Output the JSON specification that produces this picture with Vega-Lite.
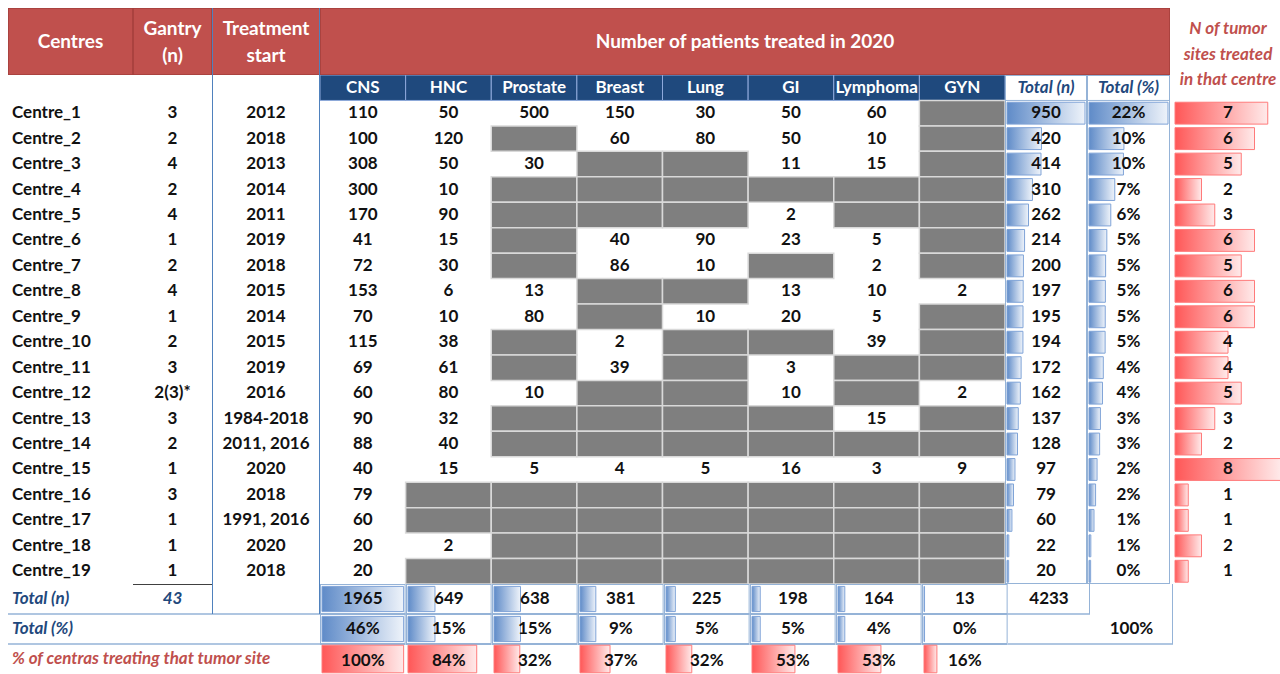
{
  "$schema": "https://vega.github.io/schema/vega-lite/v6.json",
  "padding": {"left": 8, "top": 8, "right": 0, "bottom": 0},
  "background": "white",
  "spacing": 0,
  "config": {
    "view": {"stroke": null},
    "concat": {"spacing": 0},
    "text": {"font": "Lato", "fontSize": 17, "fontWeight": "bold", "color": "#111111"}
  },
  "datasets": {
    "centres": [
      {"centre": "Centre_1", "gantry": "3", "start": "2012", "CNS": 110, "HNC": 50, "Prostate": 500, "Breast": 150, "Lung": 30, "GI": 50, "Lymphoma": 60, "total": 950, "pct": 0.2244, "sites": 7},
      {"centre": "Centre_2", "gantry": "2", "start": "2018", "CNS": 100, "HNC": 120, "Breast": 60, "Lung": 80, "GI": 50, "Lymphoma": 10, "total": 420, "pct": 0.0992, "sites": 6},
      {"centre": "Centre_3", "gantry": "4", "start": "2013", "CNS": 308, "HNC": 50, "Prostate": 30, "GI": 11, "Lymphoma": 15, "total": 414, "pct": 0.0978, "sites": 5},
      {"centre": "Centre_4", "gantry": "2", "start": "2014", "CNS": 300, "HNC": 10, "total": 310, "pct": 0.0732, "sites": 2},
      {"centre": "Centre_5", "gantry": "4", "start": "2011", "CNS": 170, "HNC": 90, "GI": 2, "total": 262, "pct": 0.0619, "sites": 3},
      {"centre": "Centre_6", "gantry": "1", "start": "2019", "CNS": 41, "HNC": 15, "Breast": 40, "Lung": 90, "GI": 23, "Lymphoma": 5, "total": 214, "pct": 0.0506, "sites": 6},
      {"centre": "Centre_7", "gantry": "2", "start": "2018", "CNS": 72, "HNC": 30, "Breast": 86, "Lung": 10, "Lymphoma": 2, "total": 200, "pct": 0.0472, "sites": 5},
      {"centre": "Centre_8", "gantry": "4", "start": "2015", "CNS": 153, "HNC": 6, "Prostate": 13, "GI": 13, "Lymphoma": 10, "GYN": 2, "total": 197, "pct": 0.0465, "sites": 6},
      {"centre": "Centre_9", "gantry": "1", "start": "2014", "CNS": 70, "HNC": 10, "Prostate": 80, "Lung": 10, "GI": 20, "Lymphoma": 5, "total": 195, "pct": 0.0461, "sites": 6},
      {"centre": "Centre_10", "gantry": "2", "start": "2015", "CNS": 115, "HNC": 38, "Breast": 2, "Lymphoma": 39, "total": 194, "pct": 0.0458, "sites": 4},
      {"centre": "Centre_11", "gantry": "3", "start": "2019", "CNS": 69, "HNC": 61, "Breast": 39, "GI": 3, "total": 172, "pct": 0.0406, "sites": 4},
      {"centre": "Centre_12", "gantry": "2(3)*", "start": "2016", "CNS": 60, "HNC": 80, "Prostate": 10, "GI": 10, "GYN": 2, "total": 162, "pct": 0.0383, "sites": 5},
      {"centre": "Centre_13", "gantry": "3", "start": "1984-2018", "CNS": 90, "HNC": 32, "Lymphoma": 15, "total": 137, "pct": 0.0324, "sites": 3},
      {"centre": "Centre_14", "gantry": "2", "start": "2011, 2016", "CNS": 88, "HNC": 40, "total": 128, "pct": 0.0302, "sites": 2},
      {"centre": "Centre_15", "gantry": "1", "start": "2020", "CNS": 40, "HNC": 15, "Prostate": 5, "Breast": 4, "Lung": 5, "GI": 16, "Lymphoma": 3, "GYN": 9, "total": 97, "pct": 0.0229, "sites": 8},
      {"centre": "Centre_16", "gantry": "3", "start": "2018", "CNS": 79, "total": 79, "pct": 0.0187, "sites": 1},
      {"centre": "Centre_17", "gantry": "1", "start": "1991, 2016", "CNS": 60, "total": 60, "pct": 0.0142, "sites": 1},
      {"centre": "Centre_18", "gantry": "1", "start": "2020", "CNS": 20, "HNC": 2, "total": 22, "pct": 0.0052, "sites": 2},
      {"centre": "Centre_19", "gantry": "1", "start": "2018", "CNS": 20, "total": 20, "pct": 0.0047, "sites": 1}
    ],
    "sites": [
      {"site": "CNS", "total": 1965, "share": 0.4642, "cpct": 1.0},
      {"site": "HNC", "total": 649, "share": 0.1533, "cpct": 0.842},
      {"site": "Prostate", "total": 638, "share": 0.1507, "cpct": 0.316},
      {"site": "Breast", "total": 381, "share": 0.09, "cpct": 0.368},
      {"site": "Lung", "total": 225, "share": 0.0532, "cpct": 0.316},
      {"site": "GI", "total": 198, "share": 0.0468, "cpct": 0.526},
      {"site": "Lymphoma", "total": 164, "share": 0.0387, "cpct": 0.526},
      {"site": "GYN", "total": 13, "share": 0.0031, "cpct": 0.158}
    ],
    "footer": [
      {"row": "n", "label": "Total (n)", "gantry": "43"},
      {"row": "pct", "label": "Total (%)"},
      {"row": "cent", "label": "% of centras treating that tumor site"}
    ],
    "grand": [{"total": 4233, "share": 1.0}]
  },
  "hconcat": [
    {
      "spacing": 0,
      "vconcat": [
        {"spacing": 0, "bounds": "flush",
         "hconcat": [
          {"width": 125, "height": 67, "data": {"values": [{"t": "Centres"}]},
           "layer": [
             {"mark": {"type": "rect", "fill": "#C0504D", "stroke": "#A33E3B", "strokeWidth": 1.5, "clip": true}, "encoding": {}},
             {"mark": {"type": "text", "color": "white", "fontSize": 19}, "encoding": {"text": {"field": "t"}}}
           ]},
          {"width": 79, "height": 67, "data": {"values": [{"t": "Gantry\n(n)"}]},
           "layer": [
             {"mark": {"type": "rect", "fill": "#C0504D", "stroke": "#A33E3B", "strokeWidth": 1.5, "clip": true}, "encoding": {}},
             {"mark": {"type": "text", "color": "white", "fontSize": 19, "lineBreak": "\n", "lineHeight": 27, "dy": -12.5}, "encoding": {"text": {"field": "t"}}}
           ]},
          {"width": 108, "height": 67, "data": {"values": [{"t": "Treatment\nstart"}]},
           "layer": [
             {"mark": {"type": "rect", "fill": "#C0504D", "stroke": "#A33E3B", "strokeWidth": 1.5, "clip": true}, "encoding": {}},
             {"mark": {"type": "text", "color": "white", "fontSize": 19, "lineBreak": "\n", "lineHeight": 27, "dy": -12.5}, "encoding": {"text": {"field": "t"}}},
             {"mark": {"type": "rule", "color": "#4F81BD", "strokeWidth": 2, "clip": true},
              "encoding": {"x": {"datum": 0, "type": "quantitative", "scale": {"domain": [0, 1], "nice": false, "zero": false}, "axis": null}}},
             {"mark": {"type": "rule", "color": "#4F81BD", "strokeWidth": 2, "clip": true},
              "encoding": {"x": {"datum": 1, "type": "quantitative"}}}
           ]}
        ]},
        {"spacing": 0, "bounds": "flush",
         "hconcat": [
          {"width": 125, "height": 509, "data": {"name": "centres"},
           "mark": {"type": "text", "align": "left", "dx": -58.5},
           "encoding": {
             "y": {"field": "centre", "type": "nominal", "scale": {"domain": ["hdr","Centre_1","Centre_2","Centre_3","Centre_4","Centre_5","Centre_6","Centre_7","Centre_8","Centre_9","Centre_10","Centre_11","Centre_12","Centre_13","Centre_14","Centre_15","Centre_16","Centre_17","Centre_18","Centre_19"], "paddingInner": 0, "paddingOuter": 0}, "axis": null},
             "text": {"field": "centre"}
           }},
          {"width": 79, "height": 509, "data": {"name": "centres"},
           "mark": {"type": "text"},
           "encoding": {
             "y": {"field": "centre", "type": "nominal", "scale": {"domain": ["hdr","Centre_1","Centre_2","Centre_3","Centre_4","Centre_5","Centre_6","Centre_7","Centre_8","Centre_9","Centre_10","Centre_11","Centre_12","Centre_13","Centre_14","Centre_15","Centre_16","Centre_17","Centre_18","Centre_19"], "paddingInner": 0, "paddingOuter": 0}, "axis": null},
             "text": {"field": "gantry"}
           }},
          {"width": 108, "height": 509,
           "layer": [
             {"data": {"name": "centres"},
              "mark": {"type": "text"},
              "encoding": {
                "y": {"field": "centre", "type": "nominal", "scale": {"domain": ["hdr","Centre_1","Centre_2","Centre_3","Centre_4","Centre_5","Centre_6","Centre_7","Centre_8","Centre_9","Centre_10","Centre_11","Centre_12","Centre_13","Centre_14","Centre_15","Centre_16","Centre_17","Centre_18","Centre_19"], "paddingInner": 0, "paddingOuter": 0}, "axis": null},
                "text": {"field": "start"}
              }},
             {"data": {"values": [{}]},
              "mark": {"type": "rule", "color": "#4F81BD", "strokeWidth": 2, "clip": true},
              "encoding": {"x": {"datum": 0, "type": "quantitative", "scale": {"domain": [0, 1], "nice": false, "zero": false}, "axis": null}}},
             {"data": {"values": [{}]},
              "mark": {"type": "rule", "color": "#4F81BD", "strokeWidth": 2, "clip": true},
              "encoding": {"x": {"datum": 1, "type": "quantitative"}}}
           ]}
        ]},
        {"spacing": 0, "bounds": "flush",
         "hconcat": [
          {"width": 125, "height": 90, "data": {"name": "footer"},
           "layer": [
             {"mark": {"type": "text", "align": "left", "dx": -58.5, "fontStyle": "italic"},
              "encoding": {
                "y": {"field": "row", "type": "nominal", "scale": {"domain": ["n","pct","cent"], "paddingInner": 0, "paddingOuter": 0}, "axis": null},
                "text": {"field": "label"},
                "color": {"condition": {"test": "datum.row === 'cent'", "value": "#C0504D"}, "value": "#1F497D"}
              }},
             {"transform": [{"filter": "datum.row !== 'cent'"}],
              "mark": {"type": "rule", "color": "#95B3D7", "strokeWidth": 1.5, "clip": true},
              "encoding": {"y": {"field": "row", "type": "nominal", "bandPosition": 1}}}
           ]},
          {"width": 79, "height": 90, "data": {"name": "footer"},
           "layer": [
             {"transform": [{"filter": "datum.gantry"}],
              "mark": {"type": "text", "fontStyle": "italic", "color": "#1F497D"},
              "encoding": {
                "y": {"field": "row", "type": "nominal", "scale": {"domain": ["n","pct","cent"], "paddingInner": 0, "paddingOuter": 0}, "axis": null},
                "text": {"field": "gantry"}
              }},
             {"transform": [{"filter": "datum.row === 'n'"}],
              "mark": {"type": "rule", "color": "#404040", "strokeWidth": 2, "clip": true},
              "encoding": {"y": {"field": "row", "type": "nominal", "bandPosition": 0}}},
             {"transform": [{"filter": "datum.row !== 'cent'"}],
              "mark": {"type": "rule", "color": "#95B3D7", "strokeWidth": 1.5, "clip": true},
              "encoding": {"y": {"field": "row", "type": "nominal", "bandPosition": 1}}}
           ]},
          {"width": 108, "height": 90, "data": {"name": "footer"},
           "layer": [
             {"transform": [{"filter": "datum.row !== 'cent'"}],
              "mark": {"type": "rule", "color": "#95B3D7", "strokeWidth": 1.5, "clip": true},
              "encoding": {"y": {"field": "row", "type": "nominal", "bandPosition": 1, "scale": {"domain": ["n","pct","cent"], "paddingInner": 0, "paddingOuter": 0}, "axis": null}}},
             {"transform": [{"filter": "datum.row === 'n'"}],
              "mark": {"type": "rect", "fill": "transparent", "stroke": "#4F81BD", "strokeWidth": 2, "clip": true},
              "encoding": {
                "y": {"field": "row", "type": "nominal"},
                "x": {"datum": 0, "type": "quantitative", "scale": {"domain": [0, 1], "nice": false, "zero": false}, "axis": null},
                "x2": {"datum": 0}
              }},
             {"transform": [{"filter": "datum.row === 'n'"}],
              "mark": {"type": "rect", "fill": "transparent", "stroke": "#4F81BD", "strokeWidth": 2, "clip": true},
              "encoding": {
                "y": {"field": "row", "type": "nominal"},
                "x": {"datum": 1, "type": "quantitative"},
                "x2": {"datum": 1}
              }}
           ]}
        ]}
      ]
    },
    {
      "spacing": 0,
      "vconcat": [
        {"width": 850, "height": 67, "data": {"values": [{"t": "Number of patients treated in 2020"}]},
         "layer": [
           {"mark": {"type": "rect", "fill": "#C0504D", "stroke": "#A33E3B", "strokeWidth": 1.5, "clip": true}, "encoding": {}},
           {"mark": {"type": "text", "color": "white", "fontSize": 19}, "encoding": {"text": {"field": "t"}}}
         ]},
        {"spacing": 0, "bounds": "flush",
         "hconcat": [
           {"width": 685, "height": 509,
            "layer": [
              {"data": {"name": "sites"},
               "mark": {"type": "rect", "fill": "#1F497D", "stroke": "#8EA9DB", "strokeWidth": 1, "clip": true},
               "encoding": {
                 "x": {"field": "site", "type": "nominal", "scale": {"domain": ["CNS","HNC","Prostate","Breast","Lung","GI","Lymphoma","GYN"], "paddingInner": 0, "paddingOuter": 0}, "axis": null},
                 "y": {"datum": "hdr", "type": "nominal", "scale": {"domain": ["hdr","Centre_1","Centre_2","Centre_3","Centre_4","Centre_5","Centre_6","Centre_7","Centre_8","Centre_9","Centre_10","Centre_11","Centre_12","Centre_13","Centre_14","Centre_15","Centre_16","Centre_17","Centre_18","Centre_19"], "paddingInner": 0, "paddingOuter": 0}, "axis": null}
               }},
              {"data": {"name": "sites"},
               "mark": {"type": "text", "color": "white"},
               "encoding": {
                 "x": {"field": "site", "type": "nominal"},
                 "y": {"datum": "hdr", "type": "nominal"},
                 "text": {"field": "site"}
               }},
              {"data": {"name": "centres"},
               "transform": [{"fold": ["CNS","HNC","Prostate","Breast","Lung","GI","Lymphoma","GYN"], "as": ["site", "n"]}, {"filter": "datum.n == null"}],
               "mark": {"type": "rect", "fill": "#7F7F7F", "stroke": "#D9D9D9", "strokeWidth": 1.5, "clip": true},
               "encoding": {
                 "x": {"field": "site", "type": "nominal"},
                 "y": {"field": "centre", "type": "nominal"}
               }},
              {"data": {"name": "centres"},
               "transform": [{"fold": ["CNS","HNC","Prostate","Breast","Lung","GI","Lymphoma","GYN"], "as": ["site", "n"]}, {"filter": "datum.n != null"}],
               "mark": {"type": "text"},
               "encoding": {
                 "x": {"field": "site", "type": "nominal"},
                 "y": {"field": "centre", "type": "nominal"},
                 "text": {"field": "n", "type": "quantitative", "format": "d"}
               }}
            ]},
           {"width": 82, "height": 509,
            "layer": [
              {"data": {"values": [{}]},
               "mark": {"type": "rect", "fill": "transparent", "stroke": "#95B3D7", "strokeWidth": 2, "clip": true},
               "encoding": {}},
              {"data": {"values": [{"t": "Total (n)"}]},
               "mark": {"type": "text", "fontStyle": "italic", "color": "#1F497D"},
               "encoding": {
                 "y": {"datum": "hdr", "type": "nominal", "scale": {"domain": ["hdr","Centre_1","Centre_2","Centre_3","Centre_4","Centre_5","Centre_6","Centre_7","Centre_8","Centre_9","Centre_10","Centre_11","Centre_12","Centre_13","Centre_14","Centre_15","Centre_16","Centre_17","Centre_18","Centre_19"], "paddingInner": 0, "paddingOuter": 0}, "axis": null},
                 "text": {"field": "t"}
               }},
              {"data": {"values": [{}]},
               "mark": {"type": "rule", "color": "#95B3D7", "clip": true},
               "encoding": {"y": {"datum": "hdr", "type": "nominal", "bandPosition": 1}}},
              {"data": {"name": "centres"},
               "mark": {"type": "bar", "height": {"band": 0.86}, "stroke": "#7FA3D7", "strokeWidth": 1,
                        "fill": {"gradient": "linear", "x1": 0, "y1": 0, "x2": 1, "y2": 0, "stops": [{"offset": 0, "color": "#5F8BC8"}, {"offset": 1, "color": "#EEF3FA"}]}},
               "encoding": {
                 "x": {"field": "total", "type": "quantitative", "scale": {"domain": [0, 950], "nice": false, "padding": 2}, "axis": null},
                 "y": {"field": "centre", "type": "nominal"}
               }},
              {"data": {"name": "centres"},
               "mark": {"type": "text"},
               "encoding": {
                 "y": {"field": "centre", "type": "nominal"},
                 "text": {"field": "total", "type": "quantitative", "format": "d"}
               }}
            ]},
           {"width": 83, "height": 509,
            "layer": [
              {"data": {"values": [{}]},
               "mark": {"type": "rect", "fill": "transparent", "stroke": "#95B3D7", "strokeWidth": 2, "clip": true},
               "encoding": {}},
              {"data": {"values": [{"t": "Total (%)"}]},
               "mark": {"type": "text", "fontStyle": "italic", "color": "#1F497D"},
               "encoding": {
                 "y": {"datum": "hdr", "type": "nominal", "scale": {"domain": ["hdr","Centre_1","Centre_2","Centre_3","Centre_4","Centre_5","Centre_6","Centre_7","Centre_8","Centre_9","Centre_10","Centre_11","Centre_12","Centre_13","Centre_14","Centre_15","Centre_16","Centre_17","Centre_18","Centre_19"], "paddingInner": 0, "paddingOuter": 0}, "axis": null},
                 "text": {"field": "t"}
               }},
              {"data": {"values": [{}]},
               "mark": {"type": "rule", "color": "#95B3D7", "clip": true},
               "encoding": {"y": {"datum": "hdr", "type": "nominal", "bandPosition": 1}}},
              {"data": {"name": "centres"},
               "mark": {"type": "bar", "height": {"band": 0.86}, "stroke": "#7FA3D7", "strokeWidth": 1,
                        "fill": {"gradient": "linear", "x1": 0, "y1": 0, "x2": 1, "y2": 0, "stops": [{"offset": 0, "color": "#5F8BC8"}, {"offset": 1, "color": "#EEF3FA"}]}},
               "encoding": {
                 "x": {"field": "pct", "type": "quantitative", "scale": {"domain": [0, 0.2244], "nice": false, "padding": 2}, "axis": null},
                 "y": {"field": "centre", "type": "nominal"}
               }},
              {"data": {"name": "centres"},
               "mark": {"type": "text"},
               "encoding": {
                 "y": {"field": "centre", "type": "nominal"},
                 "text": {"field": "pct", "type": "quantitative", "format": ".0%"}
               }}
            ]}
         ]},
        {"spacing": 0, "bounds": "flush",
         "hconcat": [
           {"width": 85.625, "height": 90, "data": {"name": "sites"}, "transform": [{"filter": "datum.site === 'CNS'"}],
            "layer": [
              {"mark": {"type": "rect", "fill": "transparent", "stroke": "#95B3D7", "strokeWidth": 2, "clip": true}, "encoding": {"y": {"datum": "n", "type": "nominal", "scale": {"domain": ["n","pct","cent"], "paddingInner": 0, "paddingOuter": 0}, "axis": null}}},
              {"mark": {"type": "rect", "fill": "transparent", "stroke": "#95B3D7", "strokeWidth": 2, "clip": true}, "encoding": {"y": {"datum": "pct", "type": "nominal"}}},
              {"mark": {"type": "bar", "height": {"band": 0.84}, "stroke": "#7FA3D7", "strokeWidth": 1, "fill": {"gradient": "linear", "x1": 0, "y1": 0, "x2": 1, "y2": 0, "stops": [{"offset": 0, "color": "#5F8BC8"}, {"offset": 1, "color": "#EEF3FA"}]}},
               "encoding": {"x": {"field": "total", "type": "quantitative", "scale": {"domain": [0, 1965], "nice": false, "padding": 2}, "axis": null}, "y": {"datum": "n", "type": "nominal"}}},
              {"mark": {"type": "bar", "height": {"band": 0.84}, "stroke": "#7FA3D7", "strokeWidth": 1, "fill": {"gradient": "linear", "x1": 0, "y1": 0, "x2": 1, "y2": 0, "stops": [{"offset": 0, "color": "#5F8BC8"}, {"offset": 1, "color": "#EEF3FA"}]}},
               "encoding": {"x": {"field": "share", "type": "quantitative", "scale": {"domain": [0, 0.4642], "nice": false, "padding": 2}, "axis": null}, "y": {"datum": "pct", "type": "nominal"}}},
              {"mark": {"type": "bar", "height": {"band": 0.92}, "stroke": "#FF7A7A", "strokeWidth": 1, "fill": {"gradient": "linear", "x1": 0, "y1": 0, "x2": 1, "y2": 0, "stops": [{"offset": 0, "color": "#FF5757"}, {"offset": 1, "color": "#FFEAEA"}]}},
               "encoding": {"x": {"field": "cpct", "type": "quantitative", "scale": {"domain": [0, 1], "nice": false, "padding": 2}, "axis": null}, "y": {"datum": "cent", "type": "nominal"}}},
              {"mark": {"type": "text"}, "encoding": {"y": {"datum": "n", "type": "nominal"}, "text": {"field": "total", "type": "quantitative", "format": "d"}}},
              {"mark": {"type": "text"}, "encoding": {"y": {"datum": "pct", "type": "nominal"}, "text": {"field": "share", "type": "quantitative", "format": ".0%"}}},
              {"mark": {"type": "text", "dy": 2}, "encoding": {"y": {"datum": "cent", "type": "nominal"}, "text": {"field": "cpct", "type": "quantitative", "format": ".0%"}}}
            ],
            "resolve": {"scale": {"x": "independent"}}},
           {"width": 85.625, "height": 90, "data": {"name": "sites"}, "transform": [{"filter": "datum.site === 'HNC'"}],
            "layer": [
              {"mark": {"type": "rect", "fill": "transparent", "stroke": "#95B3D7", "strokeWidth": 2, "clip": true}, "encoding": {"y": {"datum": "n", "type": "nominal", "scale": {"domain": ["n","pct","cent"], "paddingInner": 0, "paddingOuter": 0}, "axis": null}}},
              {"mark": {"type": "rect", "fill": "transparent", "stroke": "#95B3D7", "strokeWidth": 2, "clip": true}, "encoding": {"y": {"datum": "pct", "type": "nominal"}}},
              {"mark": {"type": "bar", "height": {"band": 0.84}, "stroke": "#7FA3D7", "strokeWidth": 1, "fill": {"gradient": "linear", "x1": 0, "y1": 0, "x2": 1, "y2": 0, "stops": [{"offset": 0, "color": "#5F8BC8"}, {"offset": 1, "color": "#EEF3FA"}]}},
               "encoding": {"x": {"field": "total", "type": "quantitative", "scale": {"domain": [0, 1965], "nice": false, "padding": 2}, "axis": null}, "y": {"datum": "n", "type": "nominal"}}},
              {"mark": {"type": "bar", "height": {"band": 0.84}, "stroke": "#7FA3D7", "strokeWidth": 1, "fill": {"gradient": "linear", "x1": 0, "y1": 0, "x2": 1, "y2": 0, "stops": [{"offset": 0, "color": "#5F8BC8"}, {"offset": 1, "color": "#EEF3FA"}]}},
               "encoding": {"x": {"field": "share", "type": "quantitative", "scale": {"domain": [0, 0.4642], "nice": false, "padding": 2}, "axis": null}, "y": {"datum": "pct", "type": "nominal"}}},
              {"mark": {"type": "bar", "height": {"band": 0.92}, "stroke": "#FF7A7A", "strokeWidth": 1, "fill": {"gradient": "linear", "x1": 0, "y1": 0, "x2": 1, "y2": 0, "stops": [{"offset": 0, "color": "#FF5757"}, {"offset": 1, "color": "#FFEAEA"}]}},
               "encoding": {"x": {"field": "cpct", "type": "quantitative", "scale": {"domain": [0, 1], "nice": false, "padding": 2}, "axis": null}, "y": {"datum": "cent", "type": "nominal"}}},
              {"mark": {"type": "text"}, "encoding": {"y": {"datum": "n", "type": "nominal"}, "text": {"field": "total", "type": "quantitative", "format": "d"}}},
              {"mark": {"type": "text"}, "encoding": {"y": {"datum": "pct", "type": "nominal"}, "text": {"field": "share", "type": "quantitative", "format": ".0%"}}},
              {"mark": {"type": "text", "dy": 2}, "encoding": {"y": {"datum": "cent", "type": "nominal"}, "text": {"field": "cpct", "type": "quantitative", "format": ".0%"}}}
            ],
            "resolve": {"scale": {"x": "independent"}}},
           {"width": 85.625, "height": 90, "data": {"name": "sites"}, "transform": [{"filter": "datum.site === 'Prostate'"}],
            "layer": [
              {"mark": {"type": "rect", "fill": "transparent", "stroke": "#95B3D7", "strokeWidth": 2, "clip": true}, "encoding": {"y": {"datum": "n", "type": "nominal", "scale": {"domain": ["n","pct","cent"], "paddingInner": 0, "paddingOuter": 0}, "axis": null}}},
              {"mark": {"type": "rect", "fill": "transparent", "stroke": "#95B3D7", "strokeWidth": 2, "clip": true}, "encoding": {"y": {"datum": "pct", "type": "nominal"}}},
              {"mark": {"type": "bar", "height": {"band": 0.84}, "stroke": "#7FA3D7", "strokeWidth": 1, "fill": {"gradient": "linear", "x1": 0, "y1": 0, "x2": 1, "y2": 0, "stops": [{"offset": 0, "color": "#5F8BC8"}, {"offset": 1, "color": "#EEF3FA"}]}},
               "encoding": {"x": {"field": "total", "type": "quantitative", "scale": {"domain": [0, 1965], "nice": false, "padding": 2}, "axis": null}, "y": {"datum": "n", "type": "nominal"}}},
              {"mark": {"type": "bar", "height": {"band": 0.84}, "stroke": "#7FA3D7", "strokeWidth": 1, "fill": {"gradient": "linear", "x1": 0, "y1": 0, "x2": 1, "y2": 0, "stops": [{"offset": 0, "color": "#5F8BC8"}, {"offset": 1, "color": "#EEF3FA"}]}},
               "encoding": {"x": {"field": "share", "type": "quantitative", "scale": {"domain": [0, 0.4642], "nice": false, "padding": 2}, "axis": null}, "y": {"datum": "pct", "type": "nominal"}}},
              {"mark": {"type": "bar", "height": {"band": 0.92}, "stroke": "#FF7A7A", "strokeWidth": 1, "fill": {"gradient": "linear", "x1": 0, "y1": 0, "x2": 1, "y2": 0, "stops": [{"offset": 0, "color": "#FF5757"}, {"offset": 1, "color": "#FFEAEA"}]}},
               "encoding": {"x": {"field": "cpct", "type": "quantitative", "scale": {"domain": [0, 1], "nice": false, "padding": 2}, "axis": null}, "y": {"datum": "cent", "type": "nominal"}}},
              {"mark": {"type": "text"}, "encoding": {"y": {"datum": "n", "type": "nominal"}, "text": {"field": "total", "type": "quantitative", "format": "d"}}},
              {"mark": {"type": "text"}, "encoding": {"y": {"datum": "pct", "type": "nominal"}, "text": {"field": "share", "type": "quantitative", "format": ".0%"}}},
              {"mark": {"type": "text", "dy": 2}, "encoding": {"y": {"datum": "cent", "type": "nominal"}, "text": {"field": "cpct", "type": "quantitative", "format": ".0%"}}}
            ],
            "resolve": {"scale": {"x": "independent"}}},
           {"width": 85.625, "height": 90, "data": {"name": "sites"}, "transform": [{"filter": "datum.site === 'Breast'"}],
            "layer": [
              {"mark": {"type": "rect", "fill": "transparent", "stroke": "#95B3D7", "strokeWidth": 2, "clip": true}, "encoding": {"y": {"datum": "n", "type": "nominal", "scale": {"domain": ["n","pct","cent"], "paddingInner": 0, "paddingOuter": 0}, "axis": null}}},
              {"mark": {"type": "rect", "fill": "transparent", "stroke": "#95B3D7", "strokeWidth": 2, "clip": true}, "encoding": {"y": {"datum": "pct", "type": "nominal"}}},
              {"mark": {"type": "bar", "height": {"band": 0.84}, "stroke": "#7FA3D7", "strokeWidth": 1, "fill": {"gradient": "linear", "x1": 0, "y1": 0, "x2": 1, "y2": 0, "stops": [{"offset": 0, "color": "#5F8BC8"}, {"offset": 1, "color": "#EEF3FA"}]}},
               "encoding": {"x": {"field": "total", "type": "quantitative", "scale": {"domain": [0, 1965], "nice": false, "padding": 2}, "axis": null}, "y": {"datum": "n", "type": "nominal"}}},
              {"mark": {"type": "bar", "height": {"band": 0.84}, "stroke": "#7FA3D7", "strokeWidth": 1, "fill": {"gradient": "linear", "x1": 0, "y1": 0, "x2": 1, "y2": 0, "stops": [{"offset": 0, "color": "#5F8BC8"}, {"offset": 1, "color": "#EEF3FA"}]}},
               "encoding": {"x": {"field": "share", "type": "quantitative", "scale": {"domain": [0, 0.4642], "nice": false, "padding": 2}, "axis": null}, "y": {"datum": "pct", "type": "nominal"}}},
              {"mark": {"type": "bar", "height": {"band": 0.92}, "stroke": "#FF7A7A", "strokeWidth": 1, "fill": {"gradient": "linear", "x1": 0, "y1": 0, "x2": 1, "y2": 0, "stops": [{"offset": 0, "color": "#FF5757"}, {"offset": 1, "color": "#FFEAEA"}]}},
               "encoding": {"x": {"field": "cpct", "type": "quantitative", "scale": {"domain": [0, 1], "nice": false, "padding": 2}, "axis": null}, "y": {"datum": "cent", "type": "nominal"}}},
              {"mark": {"type": "text"}, "encoding": {"y": {"datum": "n", "type": "nominal"}, "text": {"field": "total", "type": "quantitative", "format": "d"}}},
              {"mark": {"type": "text"}, "encoding": {"y": {"datum": "pct", "type": "nominal"}, "text": {"field": "share", "type": "quantitative", "format": ".0%"}}},
              {"mark": {"type": "text", "dy": 2}, "encoding": {"y": {"datum": "cent", "type": "nominal"}, "text": {"field": "cpct", "type": "quantitative", "format": ".0%"}}}
            ],
            "resolve": {"scale": {"x": "independent"}}},
           {"width": 85.625, "height": 90, "data": {"name": "sites"}, "transform": [{"filter": "datum.site === 'Lung'"}],
            "layer": [
              {"mark": {"type": "rect", "fill": "transparent", "stroke": "#95B3D7", "strokeWidth": 2, "clip": true}, "encoding": {"y": {"datum": "n", "type": "nominal", "scale": {"domain": ["n","pct","cent"], "paddingInner": 0, "paddingOuter": 0}, "axis": null}}},
              {"mark": {"type": "rect", "fill": "transparent", "stroke": "#95B3D7", "strokeWidth": 2, "clip": true}, "encoding": {"y": {"datum": "pct", "type": "nominal"}}},
              {"mark": {"type": "bar", "height": {"band": 0.84}, "stroke": "#7FA3D7", "strokeWidth": 1, "fill": {"gradient": "linear", "x1": 0, "y1": 0, "x2": 1, "y2": 0, "stops": [{"offset": 0, "color": "#5F8BC8"}, {"offset": 1, "color": "#EEF3FA"}]}},
               "encoding": {"x": {"field": "total", "type": "quantitative", "scale": {"domain": [0, 1965], "nice": false, "padding": 2}, "axis": null}, "y": {"datum": "n", "type": "nominal"}}},
              {"mark": {"type": "bar", "height": {"band": 0.84}, "stroke": "#7FA3D7", "strokeWidth": 1, "fill": {"gradient": "linear", "x1": 0, "y1": 0, "x2": 1, "y2": 0, "stops": [{"offset": 0, "color": "#5F8BC8"}, {"offset": 1, "color": "#EEF3FA"}]}},
               "encoding": {"x": {"field": "share", "type": "quantitative", "scale": {"domain": [0, 0.4642], "nice": false, "padding": 2}, "axis": null}, "y": {"datum": "pct", "type": "nominal"}}},
              {"mark": {"type": "bar", "height": {"band": 0.92}, "stroke": "#FF7A7A", "strokeWidth": 1, "fill": {"gradient": "linear", "x1": 0, "y1": 0, "x2": 1, "y2": 0, "stops": [{"offset": 0, "color": "#FF5757"}, {"offset": 1, "color": "#FFEAEA"}]}},
               "encoding": {"x": {"field": "cpct", "type": "quantitative", "scale": {"domain": [0, 1], "nice": false, "padding": 2}, "axis": null}, "y": {"datum": "cent", "type": "nominal"}}},
              {"mark": {"type": "text"}, "encoding": {"y": {"datum": "n", "type": "nominal"}, "text": {"field": "total", "type": "quantitative", "format": "d"}}},
              {"mark": {"type": "text"}, "encoding": {"y": {"datum": "pct", "type": "nominal"}, "text": {"field": "share", "type": "quantitative", "format": ".0%"}}},
              {"mark": {"type": "text", "dy": 2}, "encoding": {"y": {"datum": "cent", "type": "nominal"}, "text": {"field": "cpct", "type": "quantitative", "format": ".0%"}}}
            ],
            "resolve": {"scale": {"x": "independent"}}},
           {"width": 85.625, "height": 90, "data": {"name": "sites"}, "transform": [{"filter": "datum.site === 'GI'"}],
            "layer": [
              {"mark": {"type": "rect", "fill": "transparent", "stroke": "#95B3D7", "strokeWidth": 2, "clip": true}, "encoding": {"y": {"datum": "n", "type": "nominal", "scale": {"domain": ["n","pct","cent"], "paddingInner": 0, "paddingOuter": 0}, "axis": null}}},
              {"mark": {"type": "rect", "fill": "transparent", "stroke": "#95B3D7", "strokeWidth": 2, "clip": true}, "encoding": {"y": {"datum": "pct", "type": "nominal"}}},
              {"mark": {"type": "bar", "height": {"band": 0.84}, "stroke": "#7FA3D7", "strokeWidth": 1, "fill": {"gradient": "linear", "x1": 0, "y1": 0, "x2": 1, "y2": 0, "stops": [{"offset": 0, "color": "#5F8BC8"}, {"offset": 1, "color": "#EEF3FA"}]}},
               "encoding": {"x": {"field": "total", "type": "quantitative", "scale": {"domain": [0, 1965], "nice": false, "padding": 2}, "axis": null}, "y": {"datum": "n", "type": "nominal"}}},
              {"mark": {"type": "bar", "height": {"band": 0.84}, "stroke": "#7FA3D7", "strokeWidth": 1, "fill": {"gradient": "linear", "x1": 0, "y1": 0, "x2": 1, "y2": 0, "stops": [{"offset": 0, "color": "#5F8BC8"}, {"offset": 1, "color": "#EEF3FA"}]}},
               "encoding": {"x": {"field": "share", "type": "quantitative", "scale": {"domain": [0, 0.4642], "nice": false, "padding": 2}, "axis": null}, "y": {"datum": "pct", "type": "nominal"}}},
              {"mark": {"type": "bar", "height": {"band": 0.92}, "stroke": "#FF7A7A", "strokeWidth": 1, "fill": {"gradient": "linear", "x1": 0, "y1": 0, "x2": 1, "y2": 0, "stops": [{"offset": 0, "color": "#FF5757"}, {"offset": 1, "color": "#FFEAEA"}]}},
               "encoding": {"x": {"field": "cpct", "type": "quantitative", "scale": {"domain": [0, 1], "nice": false, "padding": 2}, "axis": null}, "y": {"datum": "cent", "type": "nominal"}}},
              {"mark": {"type": "text"}, "encoding": {"y": {"datum": "n", "type": "nominal"}, "text": {"field": "total", "type": "quantitative", "format": "d"}}},
              {"mark": {"type": "text"}, "encoding": {"y": {"datum": "pct", "type": "nominal"}, "text": {"field": "share", "type": "quantitative", "format": ".0%"}}},
              {"mark": {"type": "text", "dy": 2}, "encoding": {"y": {"datum": "cent", "type": "nominal"}, "text": {"field": "cpct", "type": "quantitative", "format": ".0%"}}}
            ],
            "resolve": {"scale": {"x": "independent"}}},
           {"width": 85.625, "height": 90, "data": {"name": "sites"}, "transform": [{"filter": "datum.site === 'Lymphoma'"}],
            "layer": [
              {"mark": {"type": "rect", "fill": "transparent", "stroke": "#95B3D7", "strokeWidth": 2, "clip": true}, "encoding": {"y": {"datum": "n", "type": "nominal", "scale": {"domain": ["n","pct","cent"], "paddingInner": 0, "paddingOuter": 0}, "axis": null}}},
              {"mark": {"type": "rect", "fill": "transparent", "stroke": "#95B3D7", "strokeWidth": 2, "clip": true}, "encoding": {"y": {"datum": "pct", "type": "nominal"}}},
              {"mark": {"type": "bar", "height": {"band": 0.84}, "stroke": "#7FA3D7", "strokeWidth": 1, "fill": {"gradient": "linear", "x1": 0, "y1": 0, "x2": 1, "y2": 0, "stops": [{"offset": 0, "color": "#5F8BC8"}, {"offset": 1, "color": "#EEF3FA"}]}},
               "encoding": {"x": {"field": "total", "type": "quantitative", "scale": {"domain": [0, 1965], "nice": false, "padding": 2}, "axis": null}, "y": {"datum": "n", "type": "nominal"}}},
              {"mark": {"type": "bar", "height": {"band": 0.84}, "stroke": "#7FA3D7", "strokeWidth": 1, "fill": {"gradient": "linear", "x1": 0, "y1": 0, "x2": 1, "y2": 0, "stops": [{"offset": 0, "color": "#5F8BC8"}, {"offset": 1, "color": "#EEF3FA"}]}},
               "encoding": {"x": {"field": "share", "type": "quantitative", "scale": {"domain": [0, 0.4642], "nice": false, "padding": 2}, "axis": null}, "y": {"datum": "pct", "type": "nominal"}}},
              {"mark": {"type": "bar", "height": {"band": 0.92}, "stroke": "#FF7A7A", "strokeWidth": 1, "fill": {"gradient": "linear", "x1": 0, "y1": 0, "x2": 1, "y2": 0, "stops": [{"offset": 0, "color": "#FF5757"}, {"offset": 1, "color": "#FFEAEA"}]}},
               "encoding": {"x": {"field": "cpct", "type": "quantitative", "scale": {"domain": [0, 1], "nice": false, "padding": 2}, "axis": null}, "y": {"datum": "cent", "type": "nominal"}}},
              {"mark": {"type": "text"}, "encoding": {"y": {"datum": "n", "type": "nominal"}, "text": {"field": "total", "type": "quantitative", "format": "d"}}},
              {"mark": {"type": "text"}, "encoding": {"y": {"datum": "pct", "type": "nominal"}, "text": {"field": "share", "type": "quantitative", "format": ".0%"}}},
              {"mark": {"type": "text", "dy": 2}, "encoding": {"y": {"datum": "cent", "type": "nominal"}, "text": {"field": "cpct", "type": "quantitative", "format": ".0%"}}}
            ],
            "resolve": {"scale": {"x": "independent"}}},
           {"width": 85.625, "height": 90, "data": {"name": "sites"}, "transform": [{"filter": "datum.site === 'GYN'"}],
            "layer": [
              {"mark": {"type": "rect", "fill": "transparent", "stroke": "#95B3D7", "strokeWidth": 2, "clip": true}, "encoding": {"y": {"datum": "n", "type": "nominal", "scale": {"domain": ["n","pct","cent"], "paddingInner": 0, "paddingOuter": 0}, "axis": null}}},
              {"mark": {"type": "rect", "fill": "transparent", "stroke": "#95B3D7", "strokeWidth": 2, "clip": true}, "encoding": {"y": {"datum": "pct", "type": "nominal"}}},
              {"mark": {"type": "bar", "height": {"band": 0.84}, "stroke": "#7FA3D7", "strokeWidth": 1, "fill": {"gradient": "linear", "x1": 0, "y1": 0, "x2": 1, "y2": 0, "stops": [{"offset": 0, "color": "#5F8BC8"}, {"offset": 1, "color": "#EEF3FA"}]}},
               "encoding": {"x": {"field": "total", "type": "quantitative", "scale": {"domain": [0, 1965], "nice": false, "padding": 2}, "axis": null}, "y": {"datum": "n", "type": "nominal"}}},
              {"mark": {"type": "bar", "height": {"band": 0.84}, "stroke": "#7FA3D7", "strokeWidth": 1, "fill": {"gradient": "linear", "x1": 0, "y1": 0, "x2": 1, "y2": 0, "stops": [{"offset": 0, "color": "#5F8BC8"}, {"offset": 1, "color": "#EEF3FA"}]}},
               "encoding": {"x": {"field": "share", "type": "quantitative", "scale": {"domain": [0, 0.4642], "nice": false, "padding": 2}, "axis": null}, "y": {"datum": "pct", "type": "nominal"}}},
              {"mark": {"type": "bar", "height": {"band": 0.92}, "stroke": "#FF7A7A", "strokeWidth": 1, "fill": {"gradient": "linear", "x1": 0, "y1": 0, "x2": 1, "y2": 0, "stops": [{"offset": 0, "color": "#FF5757"}, {"offset": 1, "color": "#FFEAEA"}]}},
               "encoding": {"x": {"field": "cpct", "type": "quantitative", "scale": {"domain": [0, 1], "nice": false, "padding": 2}, "axis": null}, "y": {"datum": "cent", "type": "nominal"}}},
              {"mark": {"type": "text"}, "encoding": {"y": {"datum": "n", "type": "nominal"}, "text": {"field": "total", "type": "quantitative", "format": "d"}}},
              {"mark": {"type": "text"}, "encoding": {"y": {"datum": "pct", "type": "nominal"}, "text": {"field": "share", "type": "quantitative", "format": ".0%"}}},
              {"mark": {"type": "text", "dy": 2}, "encoding": {"y": {"datum": "cent", "type": "nominal"}, "text": {"field": "cpct", "type": "quantitative", "format": ".0%"}}}
            ],
            "resolve": {"scale": {"x": "independent"}}},
           {"width": 82, "height": 90, "data": {"name": "grand"},
            "layer": [
              {"mark": {"type": "rule", "color": "#95B3D7", "strokeWidth": 1.5, "clip": true},
               "encoding": {"y": {"datum": "n", "type": "nominal", "bandPosition": 1, "scale": {"domain": ["n","pct","cent"], "paddingInner": 0, "paddingOuter": 0}, "axis": null}}},
              {"mark": {"type": "rule", "color": "#95B3D7", "strokeWidth": 1.5, "clip": true},
               "encoding": {"y": {"datum": "pct", "type": "nominal", "bandPosition": 1}}},
              {"mark": {"type": "rect", "fill": "transparent", "stroke": "#95B3D7", "strokeWidth": 2, "clip": true},
               "encoding": {
                 "y": {"datum": "n", "type": "nominal"},
                 "x": {"datum": 1, "type": "quantitative", "scale": {"domain": [0, 1], "nice": false, "zero": false}, "axis": null},
                 "x2": {"datum": 1}
               }},
              {"mark": {"type": "text"},
               "encoding": {"y": {"datum": "n", "type": "nominal"}, "text": {"field": "total", "type": "quantitative", "format": "d"}}}
            ]},
           {"width": 83, "height": 90, "data": {"name": "grand"},
            "layer": [
              {"mark": {"type": "rule", "color": "#95B3D7", "strokeWidth": 1.5, "clip": true},
               "encoding": {"y": {"datum": "pct", "type": "nominal", "bandPosition": 1, "scale": {"domain": ["n","pct","cent"], "paddingInner": 0, "paddingOuter": 0}, "axis": null}}},
              {"mark": {"type": "rect", "fill": "transparent", "stroke": "#95B3D7", "strokeWidth": 2, "clip": true},
               "encoding": {
                 "y": {"datum": "n", "type": "nominal"},
                 "x": {"datum": 1, "type": "quantitative", "scale": {"domain": [0, 1], "nice": false, "zero": false}, "axis": null},
                 "x2": {"datum": 1}
               }},
              {"mark": {"type": "rect", "fill": "transparent", "stroke": "#95B3D7", "strokeWidth": 2, "clip": true},
               "encoding": {
                 "y": {"datum": "pct", "type": "nominal"},
                 "x": {"datum": 1, "type": "quantitative"},
                 "x2": {"datum": 1}
               }},
              {"mark": {"type": "text"},
               "encoding": {"y": {"datum": "pct", "type": "nominal"}, "text": {"field": "share", "type": "quantitative", "format": ".0%"}}}
            ]}
         ]}
      ]
    },
    {
      "spacing": 0, "bounds": "flush",
      "vconcat": [
        {"width": 110, "height": 67, "data": {"values": [{"t": "N of tumor\nsites treated\nin that centre"}]},
         "mark": {"type": "text", "color": "#C0504D", "fontStyle": "italic", "fontSize": 17, "lineBreak": "\n", "lineHeight": 25.5, "dy": -12.5},
         "encoding": {"text": {"field": "t"}}},
        {"width": 110, "height": 509, "data": {"name": "centres"},
         "layer": [
           {"mark": {"type": "bar", "height": {"band": 0.86}, "stroke": "#FF7A7A", "strokeWidth": 1,
                     "fill": {"gradient": "linear", "x1": 0, "y1": 0, "x2": 1, "y2": 0, "stops": [{"offset": 0, "color": "#FF5757"}, {"offset": 1, "color": "#FFEAEA"}]}},
            "encoding": {
              "x": {"field": "sites", "type": "quantitative", "scale": {"domain": [0, 8], "nice": false, "padding": 2}, "axis": null},
              "y": {"field": "centre", "type": "nominal", "scale": {"domain": ["hdr","Centre_1","Centre_2","Centre_3","Centre_4","Centre_5","Centre_6","Centre_7","Centre_8","Centre_9","Centre_10","Centre_11","Centre_12","Centre_13","Centre_14","Centre_15","Centre_16","Centre_17","Centre_18","Centre_19"], "paddingInner": 0, "paddingOuter": 0}, "axis": null}
            }},
           {"mark": {"type": "text"},
            "encoding": {
              "y": {"field": "centre", "type": "nominal"},
              "text": {"field": "sites", "type": "quantitative"}
            }}
         ]}
      ]
    }
  ]
}
